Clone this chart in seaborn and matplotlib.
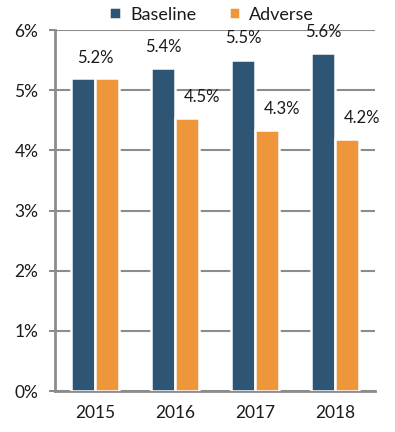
import matplotlib
matplotlib.use("Agg")
import matplotlib.pyplot as plt
import seaborn as sns
import pandas as pd
from matplotlib.ticker import FuncFormatter

years = ["2015", "2016", "2017", "2018"]
baseline = [5.2, 5.37, 5.51, 5.61]
adverse = [5.2, 4.53, 4.33, 4.19]
series_names = ["Baseline", "Adverse"]
colors = ["#2E5573", "#F0963A"]

df = pd.DataFrame({
    "Year": years * 2,
    "Value": baseline + adverse,
    "Scenario": [series_names[0]] * 4 + [series_names[1]] * 4,
})

sns.set_style("white")
plt.rcParams["font.family"] = ["Lato", "DejaVu Sans"]

TXT = "#1a1a1a"
GRID = "#8c8c8c"

fig = plt.figure(figsize=(3.95, 4.32), dpi=100)
ax = fig.add_axes([0.1392, 0.0949, 0.8101, 0.8356])

sns.barplot(data=df, x="Year", y="Value", hue="Scenario", palette=colors,
            width=0.6, edgecolor="white", linewidth=1.8, ax=ax, zorder=3,
            saturation=1, legend=True)

base_bars = list(ax.containers[0])
adv_bars = list(ax.containers[1])
for b, a in zip(base_bars, adv_bars):
    bh, ah = b.get_height(), a.get_height()
    bx = b.get_x() + b.get_width() / 2
    ax_ = a.get_x() + a.get_width() / 2
    if abs(bh - ah) < 1e-9:
        gx = (b.get_x() + a.get_x() + a.get_width()) / 2
        ax.annotate(f"{bh:.1f}%", (gx, bh), xytext=(0, 9), textcoords="offset points",
                    ha="center", va="bottom", fontsize=12, color=TXT)
    else:
        ax.annotate(f"{bh:.1f}%", (bx, bh), xytext=(0, 9.5), textcoords="offset points",
                    ha="center", va="bottom", fontsize=12, color=TXT)
        ax.annotate(f"{ah:.1f}%", (ax_, ah), xytext=(11, 9.5), textcoords="offset points",
                    ha="center", va="bottom", fontsize=12, color=TXT)

ax.set_ylim(0, 6)
ax.set_xlim(-0.5, 3.5)
ax.set_yticks(range(0, 7))
ax.yaxis.set_major_formatter(FuncFormatter(lambda v, p: f"{int(v)}%"))
ax.set_xlabel("")
ax.set_ylabel("")
ax.yaxis.grid(True, color=GRID, linewidth=1.5, zorder=0)
ax.xaxis.grid(False)
ax.set_axisbelow(True)

for s in ["top", "right"]:
    ax.spines[s].set_visible(False)
for s in ["left", "bottom"]:
    ax.spines[s].set_color(GRID)
    ax.spines[s].set_linewidth(2)

ax.set_xticks([-0.5, 0.5, 1.5, 2.5, 3.5], minor=True)
ax.tick_params(axis="x", which="major", length=0, labelsize=12.5, pad=10, colors=TXT)
ax.tick_params(axis="x", which="minor", length=4.5, width=1.5, color=GRID, direction="out")
ax.tick_params(axis="y", length=4, width=1.5, color=GRID, labelsize=12.5,
               labelcolor=TXT, left=True, direction="out", pad=8)

leg = ax.legend(loc="lower center", bbox_to_anchor=(0.49, 1.0), ncol=2, frameon=False,
                fontsize=13, handlelength=0.65, handleheight=0.65, handletextpad=0.5,
                columnspacing=1.8, borderaxespad=0)
for t in leg.get_texts():
    t.set_color(TXT)

fig.savefig("out.png", dpi=100)
